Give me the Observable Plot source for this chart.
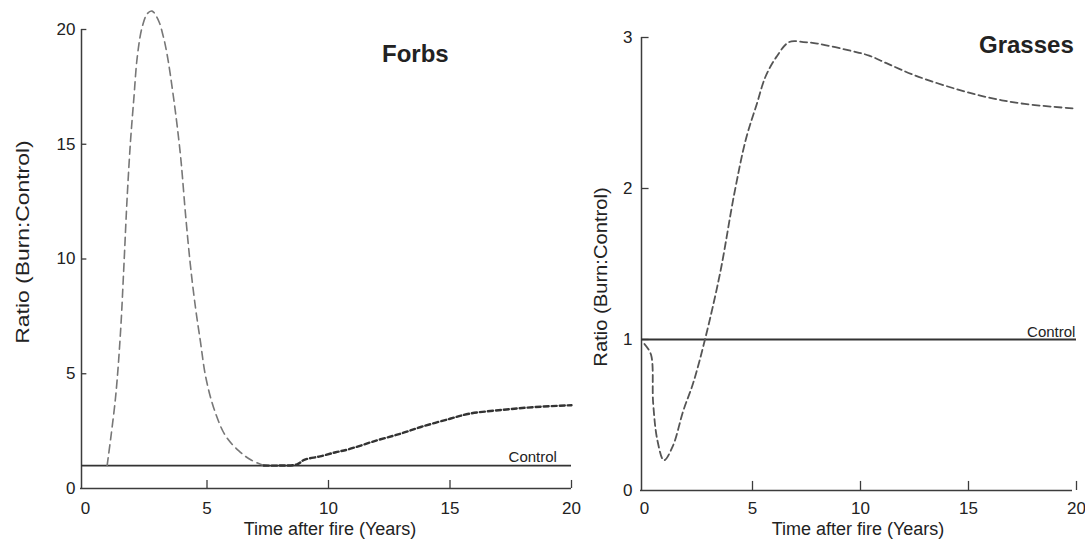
<!DOCTYPE html>
<html><head><meta charset="utf-8">
<script src="https://cdn.jsdelivr.net/npm/d3@7"></script>
<script src="https://cdn.jsdelivr.net/npm/@observablehq/plot@0.6"></script>
<style>
body{margin:0;background:#fff;}
#wrap{position:relative;width:1085px;height:539px;overflow:hidden;background:#fff;font-family:"Liberation Sans",Arial,sans-serif;color:#222;}
.panel{position:absolute;top:0;}
.t{position:absolute;white-space:nowrap;line-height:1;}
.rot{position:absolute;white-space:nowrap;line-height:1;}
</style></head><body>
<div id="wrap">
  <div class="panel" id="left" style="left:0"></div>
  <div class="panel" id="right" style="left:580px"></div>
  <div class="t" style="left:382px;top:42px;font-weight:bold;font-size:24px">Forbs</div>
  <div class="t" style="left:979px;top:33px;font-weight:bold;font-size:24px">Grasses</div>
  <div class="t" style="left:330px;top:520px;font-size:18px;transform:translateX(-50%)">Time after fire (Years)</div>
  <div class="t" style="left:858px;top:520px;font-size:18px;transform:translateX(-50%)">Time after fire (Years)</div>
  <div class="rot" style="left:23px;top:242px;font-size:18px;transform:translate(-50%,-50%) rotate(-90deg) scaleX(1.27)">Ratio (Burn:Control)</div>
  <div class="rot" style="left:601px;top:277px;font-size:18px;transform:translate(-50%,-50%) rotate(-90deg) scaleX(1.12)">Ratio (Burn:Control)</div>
</div>
<script>
// ---- data ----
const xTicks = [0, 5, 10, 15, 20];
const xTickMarks = [5, 10, 15, 20];
const forbsYTicks = [0, 5, 10, 15, 20];
const forbsYTickMarks = [5, 10, 15, 20];
const grassYTicks = [0, 1, 2, 3];
const grassYTickMarks = [1, 2, 3];
const controlValue = 1;
const controlLabel = "Control";

// Forbs: burn/control ratio, peak segment (lighter long dashes)
const forbsPeakX = [0.89, 1.23, 1.44, 1.58, 1.71, 1.85, 1.99, 2.13, 2.33, 2.55, 2.74, 3.0, 3.2, 3.36, 3.64, 3.91, 4.12, 4.32, 4.53, 4.73, 4.94, 5.28, 5.76, 6.3, 6.8, 7.34];
const forbsPeakY = [1.0, 3.9, 6.8, 9.7, 12.6, 15.1, 17.0, 18.8, 20.1, 20.7, 20.8, 20.4, 19.7, 18.9, 16.9, 14.5, 11.9, 9.7, 7.85, 6.4, 4.9, 3.5, 2.3, 1.65, 1.25, 1.0];
// Forbs: tail segment (darker short dashes)
const forbsTailX = [7.34, 8.0, 8.7, 9.0, 9.65, 10.3, 10.8, 12.0, 13.0, 13.8, 15.0, 15.8, 17.2, 18.5, 20.0];
const forbsTailY = [1.0, 1.0, 1.05, 1.25, 1.4, 1.58, 1.7, 2.1, 2.4, 2.68, 3.04, 3.26, 3.43, 3.55, 3.63];

// Grasses
const grassX = [0.0, 0.3, 0.4, 0.6, 0.9, 1.3, 1.8, 2.25, 2.8, 3.5, 4.15, 4.7, 5.2, 5.6, 6.1, 6.7, 7.35, 8.0, 9.6, 10.4, 11.2, 12.5, 14.4, 16.0, 17.6, 19.9];
const grassY = [0.97, 0.9, 0.58, 0.33, 0.2, 0.29, 0.53, 0.71, 1.0, 1.44, 1.96, 2.33, 2.56, 2.74, 2.87, 2.97, 2.97, 2.96, 2.91, 2.88, 2.83, 2.75, 2.66, 2.6, 2.56, 2.53];

// ---- drawing ----
const axisColor = "#3c3c3c";
const pts = (xs, ys) => xs.map((x, i) => [x, ys[i]]);
const fmt = d => String(d);
const style = {fontFamily: '"Liberation Sans", Arial, sans-serif', fontSize: "17px", color: "#222", background: "transparent", overflow: "visible"};

const left = Plot.plot({
  width: 580, height: 539,
  marginLeft: 85, marginRight: 9, marginTop: 29, marginBottom: 51,
  style,
  x: {domain: [0, 20], ticks: xTicks, tickFormat: fmt, tickSize: 0, tickPadding: 13, label: null},
  y: {domain: [0, 20], ticks: forbsYTicks, tickFormat: fmt, tickSize: 0, tickPadding: 10, label: null},
  marks: [
    Plot.ruleX([0], {stroke: axisColor, strokeWidth: 1.5, dx: -4}),
    Plot.ruleY([0], {stroke: axisColor, strokeWidth: 1.5, insetLeft: -5}),
    Plot.ruleX(xTickMarks, {y1: 0, y2: 0.35, stroke: axisColor, strokeWidth: 1.3}),
    Plot.ruleY(forbsYTickMarks, {x1: 0, x2: 0.22, dx: -4, stroke: axisColor, strokeWidth: 1.3}),
    Plot.ruleY([controlValue], {stroke: "#333", strokeWidth: 1.8, insetLeft: -4}),
    Plot.text([controlLabel], {x: 19.4, y: controlValue, text: d => d, textAnchor: "end", dy: -8, fontSize: 15, fill: "#222"}),
    Plot.line(pts(forbsPeakX, forbsPeakY), {curve: "catmull-rom", stroke: "#777", strokeWidth: 1.6, strokeDasharray: "8,5"}),
    Plot.line(pts(forbsTailX, forbsTailY), {curve: "catmull-rom", stroke: "#333", strokeWidth: 2.4, strokeDasharray: "5,3"})
  ]
});
document.getElementById("left").append(left);

const right = Plot.plot({
  width: 505, height: 539,
  marginLeft: 64, marginRight: 9, marginTop: 37, marginBottom: 49,
  style,
  x: {domain: [0, 20], ticks: xTicks, tickFormat: fmt, tickSize: 0, tickPadding: 11, label: null},
  y: {domain: [0, 3], ticks: grassYTicks, tickFormat: fmt, tickSize: 0, tickPadding: 12, label: null},
  marks: [
    Plot.ruleX([0], {stroke: axisColor, strokeWidth: 1.5, dx: -3}),
    Plot.ruleY([0], {stroke: axisColor, strokeWidth: 1.5, insetLeft: -4, insetRight: 4}),
    Plot.ruleX(xTickMarks, {y1: 0, y2: 0.06, stroke: axisColor, strokeWidth: 1.3}),
    Plot.ruleY(grassYTickMarks, {x1: 0, x2: 0.35, dx: -3, stroke: axisColor, strokeWidth: 1.3}),
    Plot.ruleY([controlValue], {stroke: "#333", strokeWidth: 1.8, insetLeft: -3}),
    Plot.text([controlLabel], {x: 19.95, y: controlValue, text: d => d, textAnchor: "end", dy: -7, fontSize: 15, fill: "#222"}),
    Plot.line(pts(grassX, grassY), {curve: "catmull-rom", stroke: "#555", strokeWidth: 1.8, strokeDasharray: "7,4"})
  ]
});
document.getElementById("right").append(right);
</script>
</body></html>
